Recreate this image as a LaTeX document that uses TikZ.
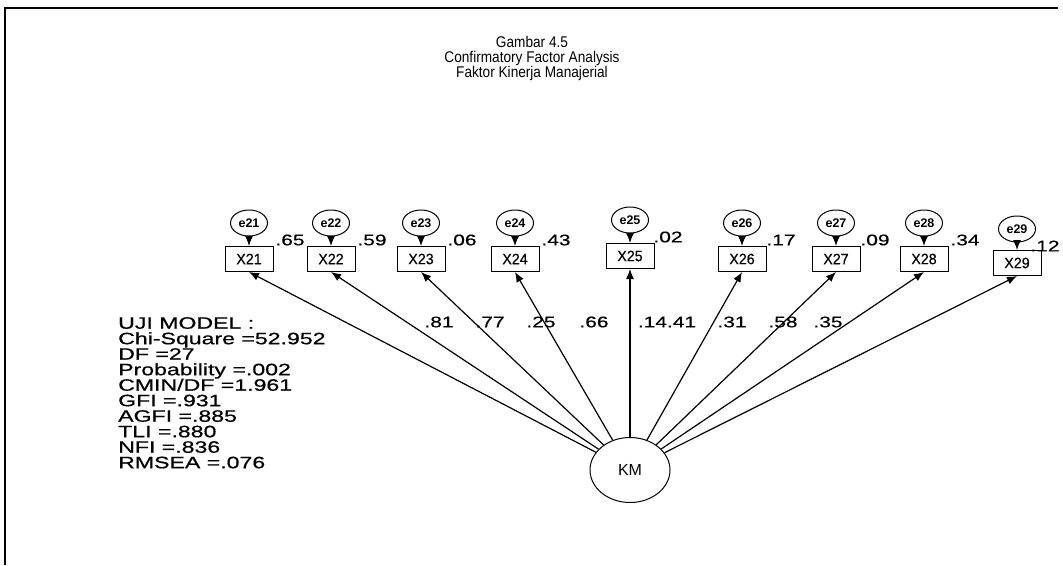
\documentclass[tikz,border=0pt]{standalone}
\usepackage{fontspec}
\setmainfont{Liberation Sans}
\newfontfamily\widefont[FakeStretch=1.35,FakeBold=0.4]{Liberation Sans}
\newfontfamily\statfont[FakeStretch=1.4,FakeBold=0.6]{Liberation Sans}
\newfontfamily\narrowfont[FakeStretch=0.88]{Liberation Sans}
\newfontfamily\boxfont[FakeStretch=0.95,FakeBold=0.3]{Liberation Sans}
\usetikzlibrary{arrows.meta,shapes.geometric}
\tikzset{
  obs/.style={draw, line width=1pt, minimum width=48pt, minimum height=25pt, inner sep=1pt, font=\boxfont\fontsize{15}{15}\selectfont},
  err/.style={draw, ellipse, line width=1pt, minimum width=37pt, minimum height=26pt, inner sep=0pt, font=\bfseries\fontsize{12.5}{12.5}\selectfont},
  lat/.style={draw, ellipse, line width=1pt, minimum width=80pt, minimum height=65pt, font=\fontsize{16}{16}\selectfont},
  arr/.style={line width=1.2pt, -{Latex[length=10pt,width=8pt]}},
  lbl/.style={font=\widefont\fontsize{15.5}{15.5}\selectfont, inner sep=0pt},
  stat/.style={font=\statfont\fontsize{16.5}{15.5}\selectfont, align=left, inner sep=0pt}
}
\begin{document}
\begin{tikzpicture}[x=1pt,y=-1pt]
\useasboundingbox (0,0) rectangle (1063,565);
\fill[white] (0,0) rectangle (1063,565);
\draw[line width=1.5pt] (5,565) -- (5,8) -- (1058,8);

\node[align=center, font=\narrowfont\fontsize{15.5}{15}\selectfont] (title) at (532,58)
  {Gambar 4.5\\Confirmatory Factor Analysis\\Faktor Kinerja Manajerial};

% error terms
\node[err] (e21) at (249,223) {e21};
\node[err] (e22) at (331,223) {e22};
\node[err] (e23) at (421,223) {e23};
\node[err] (e24) at (515,223) {e24};
\node[err] (e25) at (630,220) {e25};
\node[err] (e26) at (742,223) {e26};
\node[err] (e27) at (836,223) {e27};
\node[err] (e28) at (924,223) {e28};
\node[err] (e29) at (1017,229) {e29};

% observed
\node[obs] (X21) at (249,259) {X21};
\node[obs] (X22) at (331,259) {X22};
\node[obs] (X23) at (421,259) {X23};
\node[obs] (X24) at (515,259) {X24};
\node[obs] (X25) at (630,256) {X25};
\node[obs] (X26) at (742,259) {X26};
\node[obs] (X27) at (836,259) {X27};
\node[obs] (X28) at (924,259) {X28};
\node[obs] (X29) at (1017,263) {X29};

% latent
\node[lat] (KM) at (630,470) {KM};

% error arrows
\foreach \i in {21,...,29} {
  \draw[arr] (e\i.south) -- (X\i.north);
}

% loadings
\foreach \i in {21,...,29} {
  \draw[arr] (KM) -- (X\i.south);
}

% error labels
\node[lbl] (r21) at (290,240) {.65};
\node[lbl] (r22) at (372,240) {.59};
\node[lbl] (r23) at (462,240) {.06};
\node[lbl] (r24) at (556,240) {.43};
\node[lbl] (r25) at (668,237) {.02};
\node[lbl] (r26) at (781,240) {.17};
\node[lbl] (r27) at (875,240) {.09};
\node[lbl] (r28) at (965,240) {.34};
\node[lbl] (r29) at (1045,246) {.12};

% loading labels
\node[lbl] (l21) at (439,322) {.81};
\node[lbl] (l22) at (490,322) {.77};
\node[lbl] (l23) at (541,322) {.25};
\node[lbl] (l24) at (594,322) {.66};
\node[lbl] (l25) at (667,322) {.14.41};
\node[lbl] (l27) at (732,322) {.31};
\node[lbl] (l28) at (783,322) {.58};
\node[lbl] (l29) at (828,322) {.35};

% statistics
\node[stat, anchor=north west] (stats) at (118,317)
  {UJI MODEL :\\Chi-Square =52.952\\DF =27\\Probability =.002\\CMIN/DF =1.961\\GFI =.931\\AGFI =.885\\TLI =.880\\NFI =.836\\RMSEA =.076};
\end{tikzpicture}
\end{document}
